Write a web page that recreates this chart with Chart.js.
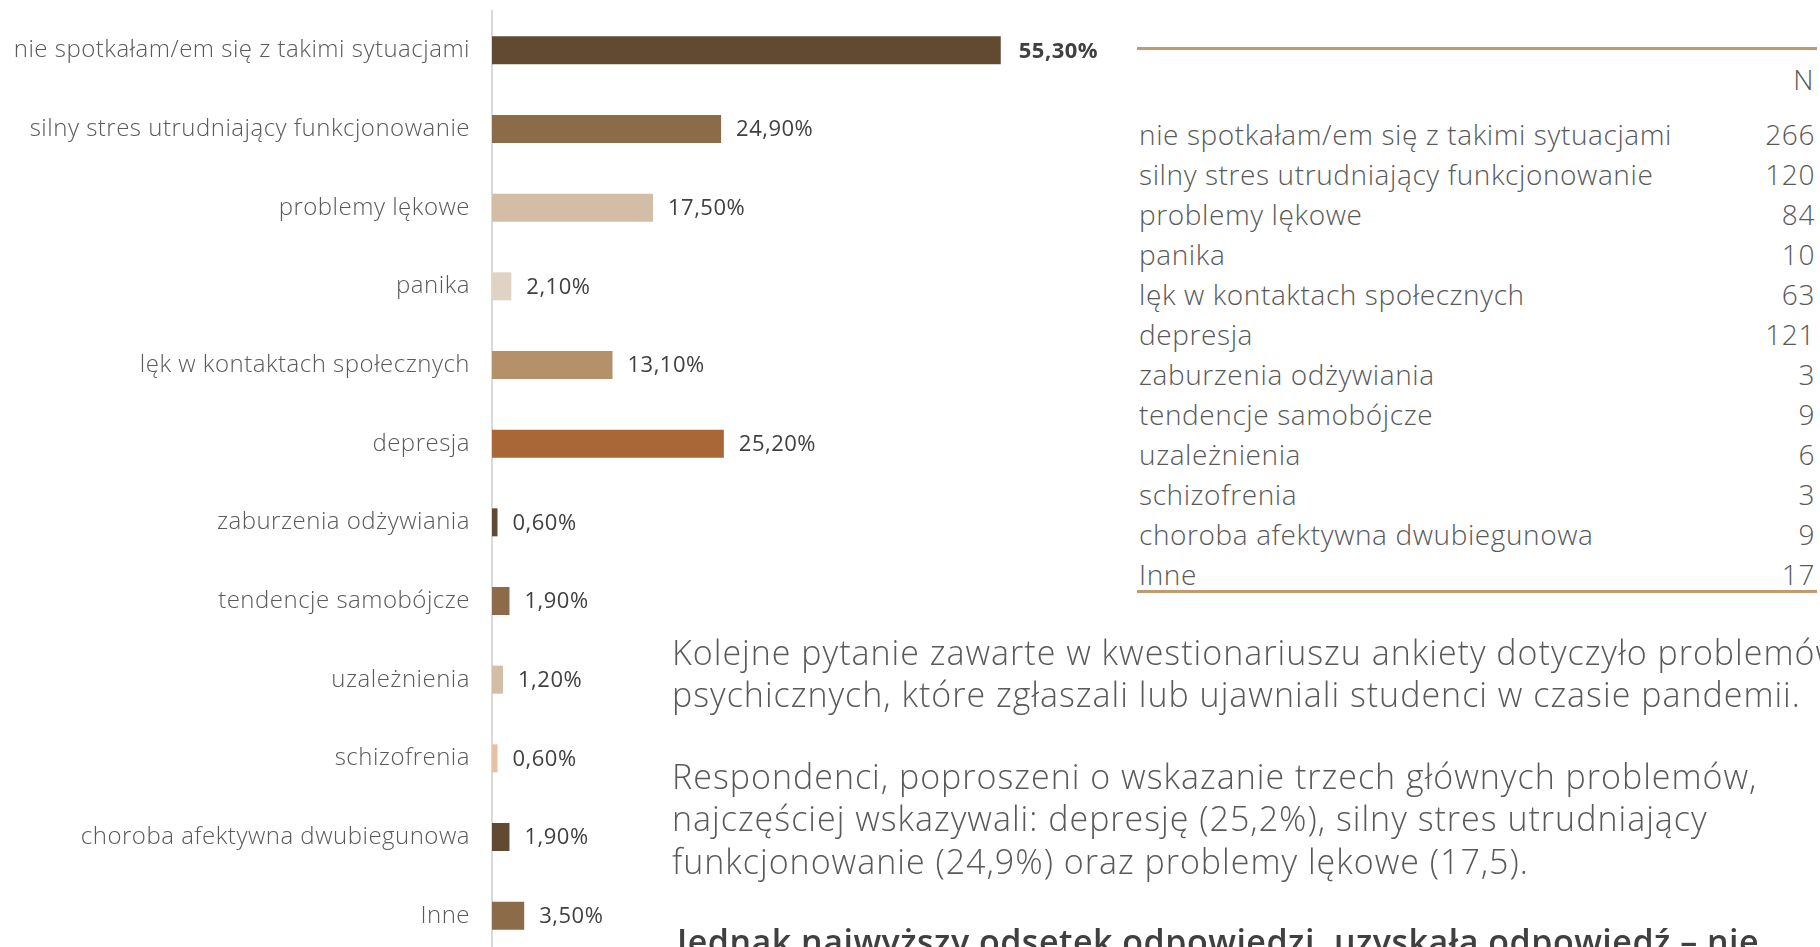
<!DOCTYPE html>
<html lang="pl">
<head>
<meta charset="utf-8">
<title>Problemy psychiczne studentów</title>
<script src="https://cdn.jsdelivr.net/npm/chart.js@4.4.1/dist/chart.umd.min.js"></script>
<style>
    html, body {
        margin: 0;
        padding: 0;
        width: 1820px;
        height: 947px;
        overflow: hidden;
        background: #ffffff;
        font-family: 'Open Sans', 'Lato', sans-serif;
        font-weight: 300;
        color: #595959;
    }
    #chart-wrap {
        position: absolute;
        left: 0;
        top: 0;
        width: 1110px;
        height: 955px;
    }
    #summary {
        position: absolute;
        left: 1137px;
        top: 47px;
        width: 680px;
        border-top: 3px solid #bf9b72;
        font-size: 28px;
        letter-spacing: 0.6px;
    }
    #summary .head {
        height: 40px;
        line-height: 40px;
        margin-top: 9px;
        text-align: right;
        padding-right: 3px;
    }
    #summary .row {
        display: flex;
        justify-content: space-between;
        height: 40px;
        line-height: 40px;
        padding: 0 2px 0 2px;
    }
    #summary .rows {
        margin-top: 15px;
        height: 476px;
        border-bottom: 3px solid #bf9b72;
    }
    .text {
        position: absolute;
        left: 672px;
        white-space: nowrap;
        font-size: 34px;
        letter-spacing: 1px;
        line-height: 42.4px;
    }
    #p1 { top: 631px; }
    #p2 { top: 755px; }
    #p3 { top: 920px; left: 677px; font-weight: 600; color: #404040; letter-spacing: 0.5px; }
</style>
</head>
<body>

<div id="chart-wrap"><canvas id="problems-chart"></canvas></div>

<div id="summary">
    <div class="head">N</div>
    <div class="rows" id="summary-rows"></div>
</div>

<div class="text" id="p1">Kolejne pytanie zawarte w kwestionariuszu ankiety dotyczyło problemów<br>psychicznych, które zgłaszali lub ujawniali studenci w czasie pandemii.</div>
<div class="text" id="p2">Respondenci, poproszeni o wskazanie trzech głównych problemów,<br>najczęściej wskazywali: depresję (25,2%), silny stres utrudniający<br>funkcjonowanie (24,9%) oraz problemy lękowe (17,5).</div>
<div class="text" id="p3">Jednak najwyższy odsetek odpowiedzi, uzyskała odpowiedź – nie</div>

<script>
'use strict';

// categories as listed in the survey
const categories = [
    'nie spotkałam/em się z takimi sytuacjami',
    'silny stres utrudniający funkcjonowanie',
    'problemy lękowe',
    'panika',
    'lęk w kontaktach społecznych',
    'depresja',
    'zaburzenia odżywiania',
    'tendencje samobójcze',
    'uzależnienia',
    'schizofrenia',
    'choroba afektywna dwubiegunowa',
    'Inne'
];

// share of respondents (%)
const percentValues = [55.3, 24.9, 17.5, 2.1, 13.1, 25.2, 0.6, 1.9, 1.2, 0.6, 1.9, 3.5];

// number of answers (N)
const counts = [266, 120, 84, 10, 63, 121, 3, 9, 6, 3, 9, 17];

const barColors = [
    '#624a32', '#8c6c48', '#d3bda5', '#e0d3c3', '#b5916a', '#a96636',
    '#624a32', '#8c6c48', '#d3bda5', '#e6c1a6', '#624a32', '#8c6c48'
];

const formatPercent = function (v) {
    return v.toFixed(2).replace('.', ',') + '%';
};

/**
 * Slightly wider letter spacing for axis labels (the original font is wide)
 */
const labelSpacing = {
    id: 'labelSpacing',
    beforeDraw: function (chart) {
        chart.ctx.letterSpacing = '0.5px';
    },
    afterDraw: function (chart) {
        chart.ctx.letterSpacing = '0px';
    }
};

/**
 * Draws value labels next to the bars
 */
const valueLabels = {
    id: 'valueLabels',
    afterDatasetsDraw: function (chart) {
        const ctx = chart.ctx;
        const meta = chart.getDatasetMeta(0);
        ctx.save();
        ctx.textAlign = 'left';
        ctx.textBaseline = 'middle';
        ctx.fillStyle = '#404040';
        meta.data.forEach(function (bar, i) {
            let weight = (i === 0) ? '700' : '400';
            let gap = (i === 0) ? 18 : 15;
            ctx.font = weight + ' 22px "Open Sans", Lato, sans-serif';
            ctx.fillText(formatPercent(percentValues[i]), bar.x + gap, bar.y + 1);
        });
        ctx.restore();
    }
};

const renderChart = function () {

    const DATA = {
        labels: categories,
        datasets: [{
            data: percentValues,
            backgroundColor: barColors,
            borderWidth: 0,
            categoryPercentage: 1,
            barPercentage: 0.356
        }]
    };

    const CONFIG = {
        type: 'bar',
        data: DATA,
        options: {
            indexAxis: 'y',
            responsive: true,
            maintainAspectRatio: false,
            animation: false,
            layout: {
                padding: { top: 11, right: 20, bottom: 0, left: 0 }
            },
            plugins: {
                legend: { display: false },
                tooltip: { enabled: false }
            },
            scales: {
                x: {
                    display: false,
                    min: 0,
                    max: 65
                },
                y: {
                    afterFit: function (scale) {
                        // fixed label column, no extra label padding top/bottom
                        scale.width = 492;
                        scale.paddingTop = 0;
                        scale.paddingBottom = 0;
                    },
                    grid: {
                        display: false,
                        drawTicks: false
                    },
                    border: {
                        display: true,
                        color: '#d9d9d9',
                        width: 2
                    },
                    ticks: {
                        padding: 22,
                        color: '#595959',
                        font: {
                            family: '"Open Sans", Lato, sans-serif',
                            size: 24,
                            weight: '300'
                        }
                    }
                }
            }
        },
        plugins: [labelSpacing, valueLabels]
    };

    new Chart(document.querySelector('#problems-chart'), CONFIG);
};

// builds the N table on the right
const renderTable = function () {
    let rows = document.querySelector('#summary-rows');
    for (let i = 0; i < categories.length; i++) {
        let row = document.createElement('div');
        row.className = 'row';
        let name = document.createElement('span');
        name.textContent = categories[i];
        let n = document.createElement('span');
        n.textContent = counts[i];
        row.appendChild(name);
        row.appendChild(n);
        rows.appendChild(row);
    }
};

renderTable();
renderChart();
</script>
</body>
</html>
